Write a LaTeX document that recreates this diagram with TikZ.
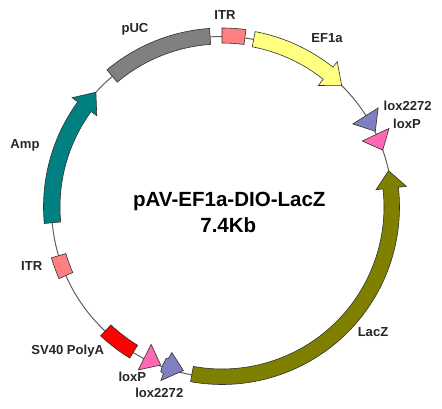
\documentclass[tikz,border=0pt]{standalone}
\usepackage{fontspec}
\setmainfont{Liberation Sans}
\usetikzlibrary{positioning}
\definecolor{cLine}{HTML}{606060}
\definecolor{cEdge}{HTML}{303030}
\definecolor{cYel}{HTML}{FFFF80}
\definecolor{cGry}{HTML}{808080}
\definecolor{cItr}{HTML}{FF8080}
\definecolor{cRed}{HTML}{FF0000}
\definecolor{cTeal}{HTML}{008080}
\definecolor{cOlv}{HTML}{808000}
\definecolor{cLoxB}{HTML}{8080C0}
\definecolor{cLoxP}{HTML}{FF69B4}
\tikzset{
  backbone/.style={draw=cLine,line width=0.75pt},
  feat/.style={draw=cEdge,line width=0.45pt,line join=miter},
  lbl/.style={font=\bfseries\fontsize{9.8}{11}\selectfont,text=black!85,inner sep=0pt},
  title/.style={font=\bfseries\fontsize{15.4}{18}\selectfont,inner sep=0pt},
}
% box: colour, start angle, end angle, inner r, outer r
\newcommand{\plasbox}[5]{\draw[feat,fill=#1] (#2:#5) arc[start angle=#2,end angle=#3,radius=#5] -- (#3:#4) arc[start angle=#3,end angle=#2,radius=#4] -- cycle;}
% arrow: colour, tail angle, head base angle, tip angle, inner r, outer r
\newcommand{\plasarrow}[6]{\draw[feat,fill=#1] (#2:#6) arc[start angle=#2,end angle=#3,radius=#6] -- (#3:185.5) -- (#4:170.5) -- (#3:155) -- (#3:#5) arc[start angle=#3,end angle=#2,radius=#5] -- cycle;}
\begin{document}
\begin{tikzpicture}[x=0.75pt,y=0.75pt]
  \useasboundingbox (0,0) rectangle (442,-409);
  \begin{scope}[shift={(222,-207)}]
    \draw[backbone] (0,0) circle[radius=170.5];
    \plasarrow{cTeal}{185.3}{143.9}{137.7}{162}{178.5}
    \plasarrow{cYel}{79.3}{51.6}{45.4}{163}{178.5}
    \plasarrow{cOlv}{-100.2}{6.4}{12.3}{162}{177.5}
    \plasbox{cGry}{130}{94}{163}{179}
    \plasbox{cItr}{90}{82.3}{164}{179}
    \plasbox{cItr}{-163.4}{-156.3}{163}{178}
    \plasbox{cRed}{-133.3}{-121.4}{162}{177}
    \draw[feat,fill=cLoxB] (32.4:185) -- (26.3:171) -- (32.4:155) -- cycle;
    \draw[feat,fill=cLoxP] (25.2:184.6) -- (19.5:170.5) -- (25.2:155) -- cycle;
    \draw[feat,fill=cLoxB] (-109:154) -- (-103.3:168) -- (-109.4:184) -- (-109.4:176.4) -- (-110.4:175.7) -- (-110.6:169.6) -- (-110.2:161) -- (-109.5:160.7) -- cycle;
    \draw[feat,fill=cLoxP] (-117.3:154.6) -- (-111.2:169.5) -- (-117.2:183.2) -- cycle;
  \end{scope}
  \node[title] (name) at (229.3,-201.7) {pAV-EF1a-DIO-LacZ};
  \node[title] (size) at (228.3,-225) {7.4Kb};
  \node[lbl] (itrtop) at (225,-15) {ITR};
  \node[lbl] (ef) at (327,-37.7) {EF1a};
  \node[lbl] (loxbr) at (407.7,-106) {lox2272};
  \node[lbl] (loxpr) at (407,-123.7) {loxP};
  \node[lbl] (puc) at (135,-29) {pUC};
  \node[lbl] (amp) at (25,-145) {Amp};
  \node[lbl] (itrleft) at (31.7,-265.7) {ITR};
  \node[lbl] (sv) at (67.7,-350.7) {SV40 PolyA};
  \node[lbl] (loxpb) at (132.3,-376.7) {loxP};
  \node[lbl] (loxbb) at (159.3,-393.3) {lox2272};
  \node[lbl] (lacz) at (373,-331.7) {LacZ};
\end{tikzpicture}
\end{document}
